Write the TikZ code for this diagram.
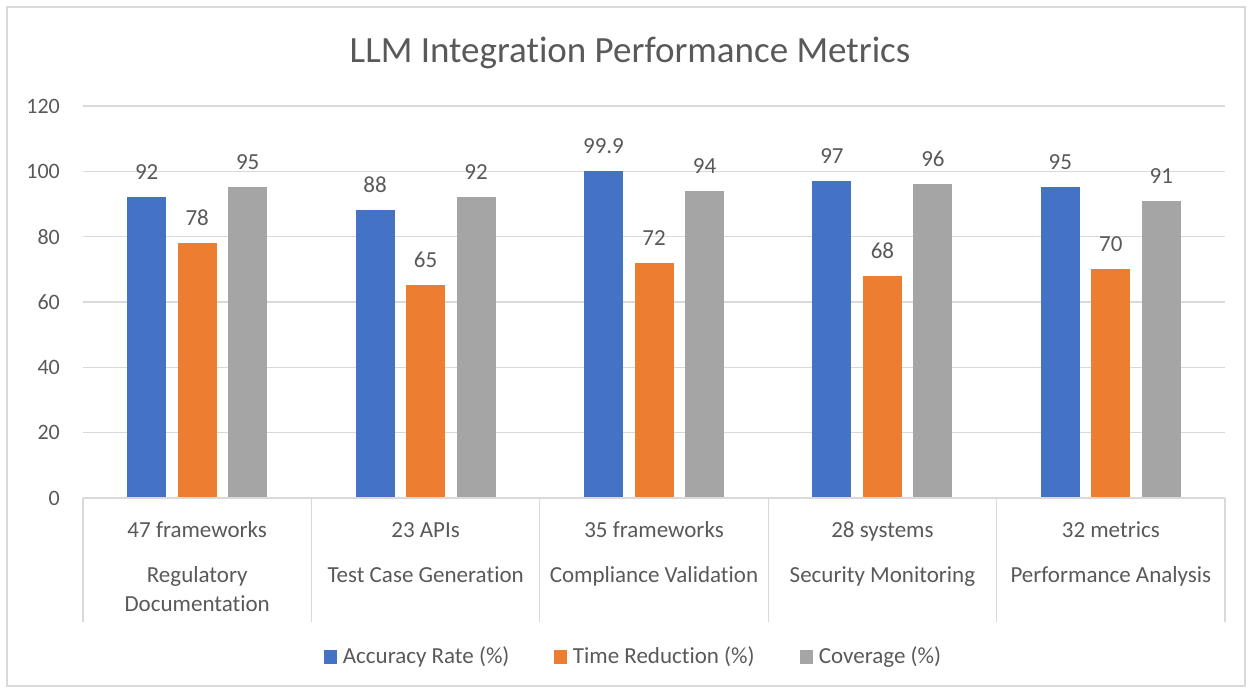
\documentclass[tikz,border=0pt]{standalone}
\usepackage{fontspec}
\setmainfont{Carlito}[Ligatures={NoCommon,NoContextual}]
\usepackage{xcolor}
\usetikzlibrary{positioning}
\definecolor{accblue}{HTML}{4472C4}
\definecolor{timeorange}{HTML}{ED7D31}
\definecolor{covgray}{HTML}{A5A5A5}
\definecolor{txtgray}{HTML}{595959}
\definecolor{gridgray}{HTML}{D9D9D9}
\tikzset{
  bar/.style={rectangle, inner sep=0pt, minimum width=39pt, anchor=south},
  acc/.style={bar, fill=accblue, minimum height=#1*3.2667pt},
  tim/.style={bar, fill=timeorange, minimum height=#1*3.2667pt},
  cov/.style={bar, fill=covgray, minimum height=#1*3.2667pt},
  val/.style={inner sep=0pt, text=txtgray, font=\fontsize{23}{27}\selectfont},
  tick/.style={inner sep=0pt, anchor=east, text=txtgray, font=\fontsize{22}{26}\selectfont},
  cat/.style={inner sep=0pt, anchor=base, align=center, text=txtgray, font=\fontsize{23}{29}\selectfont},
  key/.style={rectangle, inner sep=0pt, minimum size=13pt},
  leg/.style={inner sep=0pt, text=txtgray, font=\fontsize{23}{27}\selectfont},
  grid/.style={draw=gridgray, line width=1.2pt},
}

\begin{document}
\begin{tikzpicture}[x=1pt, y=1pt]
\useasboundingbox (0,0) rectangle (1252,693);
\draw[gridgray, line width=1.2pt] (7,7) rectangle (1245,686);
\node[anchor=base, inner sep=0pt, text=txtgray, font=\fontsize{37}{41}\selectfont] (title) at (630,630) {LLM Integration Performance Metrics};
% gridlines and y labels
\draw[grid] (83,260.33) -- (1225,260.33);
\draw[grid] (83,325.67) -- (1225,325.67);
\draw[grid] (83,391) -- (1225,391);
\draw[grid] (83,456.33) -- (1225,456.33);
\draw[grid] (83,521.67) -- (1225,521.67);
\draw[grid] (83,587) -- (1225,587);
\node[tick] (y0) at (60,195) {0};
\node[tick] (y20) at (60,260.33) {20};
\node[tick] (y40) at (60,325.67) {40};
\node[tick] (y60) at (60,391) {60};
\node[tick] (y80) at (60,456.33) {80};
\node[tick] (y100) at (60,521.67) {100};
\node[tick] (y120) at (60,587) {120};
% bars
\node[acc=92] (a1) at (146.7,195) {};
\node[tim=78] (t1) at (197.2,195) {};
\node[cov=95] (c1) at (247.7,195) {};
\node[acc=88] (a2) at (375.1,195) {};
\node[tim=65] (t2) at (425.6,195) {};
\node[cov=92] (c2) at (476.1,195) {};
\node[acc=99.9] (a3) at (603.5,195) {};
\node[tim=72] (t3) at (654,195) {};
\node[cov=94] (c3) at (704.5,195) {};
\node[acc=97] (a4) at (831.9,195) {};
\node[tim=68] (t4) at (882.4,195) {};
\node[cov=96] (c4) at (932.9,195) {};
\node[acc=95] (a5) at (1060.3,195) {};
\node[tim=70] (t5) at (1110.8,195) {};
\node[cov=91] (c5) at (1161.3,195) {};
% value labels
\node[val, above=17pt of a1] (va1) {92};
\node[val, above=17pt of t1] (vt1) {78};
\node[val, above=17pt of c1] (vc1) {95};
\node[val, above=17pt of a2] (va2) {88};
\node[val, above=17pt of t2] (vt2) {65};
\node[val, above=17pt of c2] (vc2) {92};
\node[val, above=17pt of a3] (va3) {99.9};
\node[val, above=17pt of t3] (vt3) {72};
\node[val, above=17pt of c3] (vc3) {94};
\node[val, above=17pt of a4] (va4) {97};
\node[val, above=17pt of t4] (vt4) {68};
\node[val, above=17pt of c4] (vc4) {96};
\node[val, above=17pt of a5] (va5) {95};
\node[val, above=17pt of t5] (vt5) {70};
\node[val, above=17pt of c5] (vc5) {91};
% category axis
\draw[grid] (83,195) -- (1225,195);
\draw[grid] (83,195) -- (83,71);
\draw[grid] (311.4,195) -- (311.4,71);
\draw[grid] (539.8,195) -- (539.8,71);
\draw[grid] (768.2,195) -- (768.2,71);
\draw[grid] (996.6,195) -- (996.6,71);
\draw[grid] (1225,195) -- (1225,71);
\node[cat] (n1) at (197.2,155) {47 frameworks};
\node[cat] (n2) at (425.6,155) {23 APIs};
\node[cat] (n3) at (654,155) {35 frameworks};
\node[cat] (n4) at (882.4,155) {28 systems};
\node[cat] (n5) at (1110.8,155) {32 metrics};
\node[cat] (g1) at (197.2,81) {Regulatory\\Documentation};
\node[cat] (g2) at (425.6,110) {Test Case Generation};
\node[cat] (g3) at (654,110) {Compliance Validation};
\node[cat] (g4) at (882.4,110) {Security Monitoring};
\node[cat] (g5) at (1110.8,110) {Performance Analysis};
% legend
\node[key, fill=accblue] (ka) at (330,36) {};
\node[leg, right=6pt of ka] (la) {Accuracy Rate (\%)};
\node[key, fill=timeorange] (kt) at (560,36) {};
\node[leg, right=6pt of kt] (lt) {Time Reduction (\%)};
\node[key, fill=covgray] (kc) at (806,36) {};
\node[leg, right=6pt of kc] (lc) {Coverage (\%)};
\end{tikzpicture}
\end{document}
